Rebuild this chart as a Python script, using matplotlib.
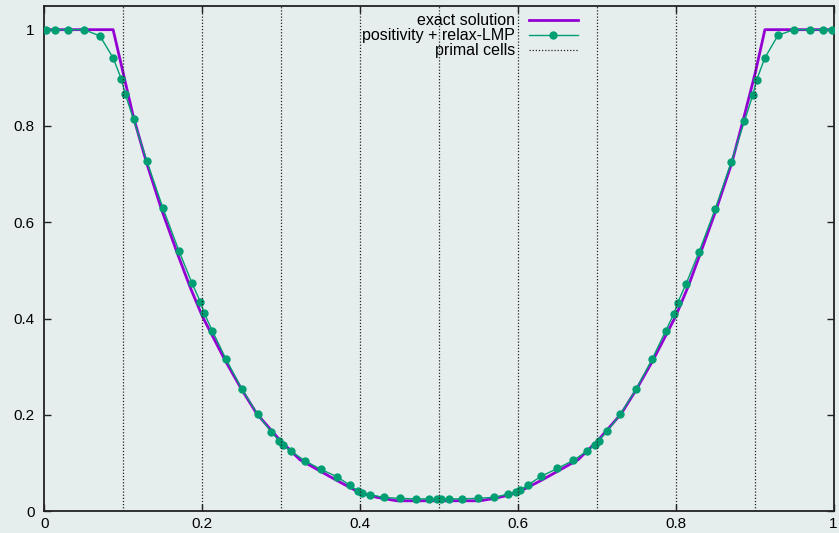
import matplotlib
matplotlib.use("Agg")
import matplotlib.pyplot as plt
import numpy as np

plt.rcParams['font.family'] = ['Liberation Sans', 'DejaVu Sans']

# exact profile
x_exact = [0.0, 0.087, 0.1125, 0.1295, 0.1485, 0.1683, 0.1844, 0.2, 0.2288,
           0.25, 0.269, 0.2985, 0.3238, 0.3703, 0.3977, 0.421, 0.4464, 0.552,
           0.571, 0.59, 0.6023, 0.6297, 0.6762, 0.7015, 0.731, 0.75, 0.7712,
           0.80, 0.8156, 0.8314, 0.851, 0.871, 0.8857, 0.9009, 0.913, 1.0]
y_exact = [1.0, 1.0, 0.820, 0.723, 0.626, 0.536, 0.466, 0.405, 0.3135,
           0.2525, 0.2025, 0.147, 0.1067, 0.064, 0.040, 0.0288, 0.0215, 0.0215,
           0.0267, 0.034, 0.041, 0.064, 0.1067, 0.147, 0.2025, 0.2525, 0.3135,
           0.405, 0.466, 0.536, 0.625, 0.723, 0.8135, 0.911, 1.0, 1.0]

# values at the quadrature points of each cell
x_num = [0.0025, 0.0129, 0.0297, 0.05, 0.0703, 0.0871, 0.0975,
         0.1025, 0.1129, 0.1297, 0.15, 0.1703, 0.1871, 0.1975,
         0.2025, 0.2129, 0.2297, 0.25, 0.2703, 0.2871, 0.2975,
         0.3025, 0.3129, 0.3297, 0.35, 0.3703, 0.3871, 0.3975,
         0.4025, 0.4129, 0.4297, 0.45, 0.4703, 0.4871, 0.4975,
         0.5025, 0.5129, 0.5297, 0.55, 0.5703, 0.5871, 0.5975,
         0.6025, 0.6129, 0.6297, 0.65, 0.6703, 0.6871, 0.6975,
         0.7025, 0.7129, 0.7297, 0.75, 0.7703, 0.7871, 0.7975,
         0.8025, 0.8129, 0.8297, 0.85, 0.8703, 0.8871, 0.8975,
         0.9025, 0.9129, 0.9297, 0.95, 0.9703, 0.9871, 0.9975]
y_num = [1.0, 1.0, 1.0, 1.0, 0.987, 0.941, 0.897,
         0.8656, 0.8135, 0.7275, 0.630, 0.541, 0.473, 0.435,
         0.411, 0.374, 0.317, 0.2538, 0.201, 0.165, 0.146,
         0.1365, 0.124, 0.105, 0.087, 0.0719, 0.0538, 0.041,
         0.038, 0.0344, 0.0285, 0.0265, 0.0255, 0.0254, 0.0254,
         0.0254, 0.0254, 0.0256, 0.0267, 0.0288, 0.0352, 0.0403,
         0.043, 0.0548, 0.0725, 0.0888, 0.1054, 0.1243, 0.138,
         0.1465, 0.1656, 0.201, 0.2538, 0.3163, 0.374, 0.4094,
         0.433, 0.4714, 0.539, 0.6275, 0.7246, 0.810, 0.8635,
         0.8954, 0.9413, 0.9885, 1.0, 1.0, 1.0, 1.0]

cell_edges = [0.1, 0.2, 0.3, 0.4, 0.5, 0.6, 0.7, 0.8, 0.9]

x_ticks = [0, 0.2, 0.4, 0.6, 0.8, 1]
x_labels = ['0', '0.2', '0.4', '0.6', '0.8', '1']
y_ticks = [0, 0.2, 0.4, 0.6, 0.8, 1]
y_labels = ['0', '0.2', '0.4', '0.6', '0.8', '1']

bg = '#e5eded'
fig = plt.figure(figsize=(8.39, 5.33), dpi=100, facecolor=bg)
ax = fig.add_axes([0.053, 0.041, 0.9405, 0.9485])
ax.set_facecolor(bg)

ax.plot(x_exact, y_exact, color='#9400d3', lw=2.0, label='exact solution', zorder=2)
ax.plot(x_num, y_num, color='#009e73', lw=1.0, marker='o', ms=6,
        markeredgewidth=0, label='positivity + relax-LMP', zorder=3)
for i, xe in enumerate(cell_edges):
    ax.axvline(xe, color='#222222', lw=0.9, ls=(0, (1, 1.5)),
               label='primal cells' if i == 0 else None, zorder=4)

ax.set_xlim(0, 1)
ax.set_ylim(0, 1.05)
ax.set_xticks(x_ticks)
ax.set_xticklabels(x_labels)
ax.set_yticks(y_ticks)
ax.set_yticklabels(y_labels)
ax.tick_params(direction='in', length=5, width=1, top=True, right=True,
               labelsize=11, colors='#222222', labelcolor='black')
ax.tick_params(axis='x', pad=4)
ax.tick_params(axis='y', pad=7)
for sp in ax.spines.values():
    sp.set_linewidth(1.3)
    sp.set_color('#222222')

leg = ax.legend(loc='upper right', bbox_to_anchor=(0.6885, 1.004), frameon=False,
                markerfirst=False, fontsize=11.5, handlelength=3.1,
                handletextpad=0.85, labelspacing=0.0, borderpad=0.1)

fig.savefig('out.png', dpi=100, facecolor=bg)
